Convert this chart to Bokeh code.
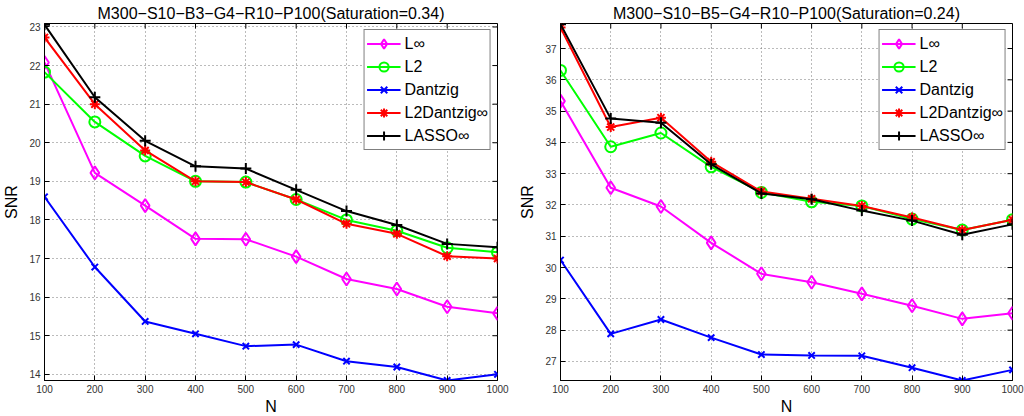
import math
from bokeh.plotting import figure
from bokeh.layouts import row
from bokeh.models import Range1d, FixedTicker, Legend, LegendItem
from bokeh.embed import file_html
from bokeh.resources import INLINE

# ---------------- data ----------------
N = [100, 200, 300, 400, 500, 600, 700, 800, 900, 1000]
series_names = ["L\u221e", "L2", "Dantzig", "L2Dantzig\u221e", "LASSO\u221e"]

left_title = "M300\u2212S10\u2212B3\u2212G4\u2212R10\u2212P100(Saturation=0.34)"
left_linf = [22.08, 19.22, 18.37, 17.51, 17.50, 17.05, 16.47, 16.21, 15.75, 15.58]
left_l2 = [21.83, 20.54, 19.66, 19.00, 18.98, 18.53, 18.00, 17.72, 17.28, 17.16]
left_dantzig = [18.60, 16.78, 15.37, 15.05, 14.73, 14.77, 14.34, 14.19, 13.84, 14.00]
left_l2dantzig = [22.73, 21.00, 19.80, 19.00, 18.98, 18.53, 17.90, 17.64, 17.06, 17.00]
left_lasso = [23.06, 21.18, 20.05, 19.39, 19.33, 18.78, 18.23, 17.87, 17.38, 17.29]
left_yticks = [14, 15, 16, 17, 18, 19, 20, 21, 22, 23]

right_title = "M300\u2212S10\u2212B5\u2212G4\u2212R10\u2212P100(Saturation=0.24)"
right_linf = [35.32, 32.55, 31.95, 30.79, 29.80, 29.53, 29.16, 28.78, 28.36, 28.54]
right_l2 = [36.30, 33.86, 34.30, 33.22, 32.40, 32.10, 31.97, 31.55, 31.20, 31.53]
right_dantzig = [30.24, 27.88, 28.34, 27.76, 27.22, 27.19, 27.18, 26.80, 26.39, 26.73]
right_l2dantzig = [37.67, 34.49, 34.79, 33.38, 32.43, 32.20, 31.97, 31.60, 31.20, 31.53]
right_lasso = [37.78, 34.76, 34.63, 33.30, 32.37, 32.18, 31.82, 31.50, 31.05, 31.38]
right_yticks = [27, 28, 29, 30, 31, 32, 33, 34, 35, 36, 37]

FONT = "Liberation Sans"

styles = [
    dict(color="#ff00ff", marker="diamond", size=13),
    dict(color="#00ff00", marker="circle", size=11),
    dict(color="#0000ff", marker="x", size=9),
    dict(color="#ff0000", marker="asterisk", size=10),
    dict(color="#000000", marker="cross", size=11),
]


def make_fig(title, data, ymin, ymax, yticks, border_left, border_right, frame_w):
    p = figure(frame_width=frame_w, frame_height=357,
               output_backend="svg", toolbar_location=None,
               x_range=Range1d(100, 1000), y_range=Range1d(ymin, ymax),
               min_border_left=border_left, min_border_right=border_right,
               min_border_top=23, min_border_bottom=36,
               background_fill_color="white", border_fill_color="white")
    p.title.text = title
    p.title.align = "center"
    p.title.text_font = FONT
    p.title.text_font_size = "16px"
    p.title.text_font_style = "normal"
    p.title.text_color = "#000000"
    p.title.offset = 0
    p.title.standoff = 3

    p.outline_line_color = "black"
    p.outline_line_width = 1
    p.outline_line_alpha = 1

    for ax in (p.xaxis[0], p.yaxis[0]):
        ax.axis_line_color = "black"
        ax.major_tick_line_color = "black"
        ax.major_tick_in = 5
        ax.major_tick_out = 0
        ax.minor_tick_line_color = None
        ax.major_label_text_font = FONT
        ax.major_label_text_font_size = "10px"
        ax.major_label_text_color = "#333333"
        ax.axis_label_text_font = FONT
        ax.axis_label_text_font_size = "16px"
        ax.axis_label_text_font_style = "normal"
        ax.axis_label_text_color = "#000000"
        ax.major_label_standoff = 4
    p.xaxis[0].ticker = FixedTicker(ticks=N)
    p.yaxis[0].ticker = FixedTicker(ticks=yticks)
    p.xaxis[0].axis_label = "N"
    p.yaxis[0].axis_label = "SNR"
    p.xaxis[0].axis_label_standoff = 2
    p.yaxis[0].axis_label_standoff = 6

    p.xgrid.ticker = FixedTicker(ticks=N)
    p.ygrid.ticker = FixedTicker(ticks=yticks)
    for g in (p.xgrid, p.ygrid):
        g.grid_line_color = "#777777"
        g.grid_line_dash = "1 3"
        g.grid_line_width = 1

    # mirrored inward tick marks on the top and right edges of the box
    # (dash markers centred on the edge; the outer half is clipped by the frame)
    p.scatter(N, [ymax] * len(N), marker="dash", angle=math.pi / 2, size=10,
              line_color="black", line_width=1)
    p.scatter([1000] * len(yticks), yticks, marker="dash", size=10,
              line_color="black", line_width=1)

    items = []
    for name, vals, st in zip(series_names, data, styles):
        ln = p.line(N, vals, line_color=st["color"], line_width=2)
        sc = p.scatter(N, vals, marker=st["marker"], size=st["size"],
                       line_color=st["color"], fill_color=None, line_width=2)
        items.append(LegendItem(label=name, renderers=[ln, sc]))

    leg = Legend(items=items, location="top_right")
    leg.margin = 6
    leg.padding = 2
    leg.spacing = -2
    leg.glyph_width = 34
    leg.glyph_height = 23
    leg.label_height = 16
    leg.label_standoff = 4
    leg.label_text_font = FONT
    leg.label_text_font_size = "16px"
    leg.label_text_color = "#000000"
    leg.border_line_color = "black"
    leg.border_line_width = 1
    leg.background_fill_color = "white"
    leg.background_fill_alpha = 1
    p.add_layout(leg, "center")
    return p


p1 = make_fig(left_title,
              [left_linf, left_l2, left_dantzig, left_l2dantzig, left_lasso],
              13.84, 23.09, left_yticks, 43, 16, 453)
p2 = make_fig(right_title,
              [right_linf, right_l2, right_dantzig, right_l2dantzig, right_lasso],
              26.39, 37.80, right_yticks, 47, 13, 452)

layout = row(p1, p2)
open("out.html", "w").write(file_html(layout, INLINE))
